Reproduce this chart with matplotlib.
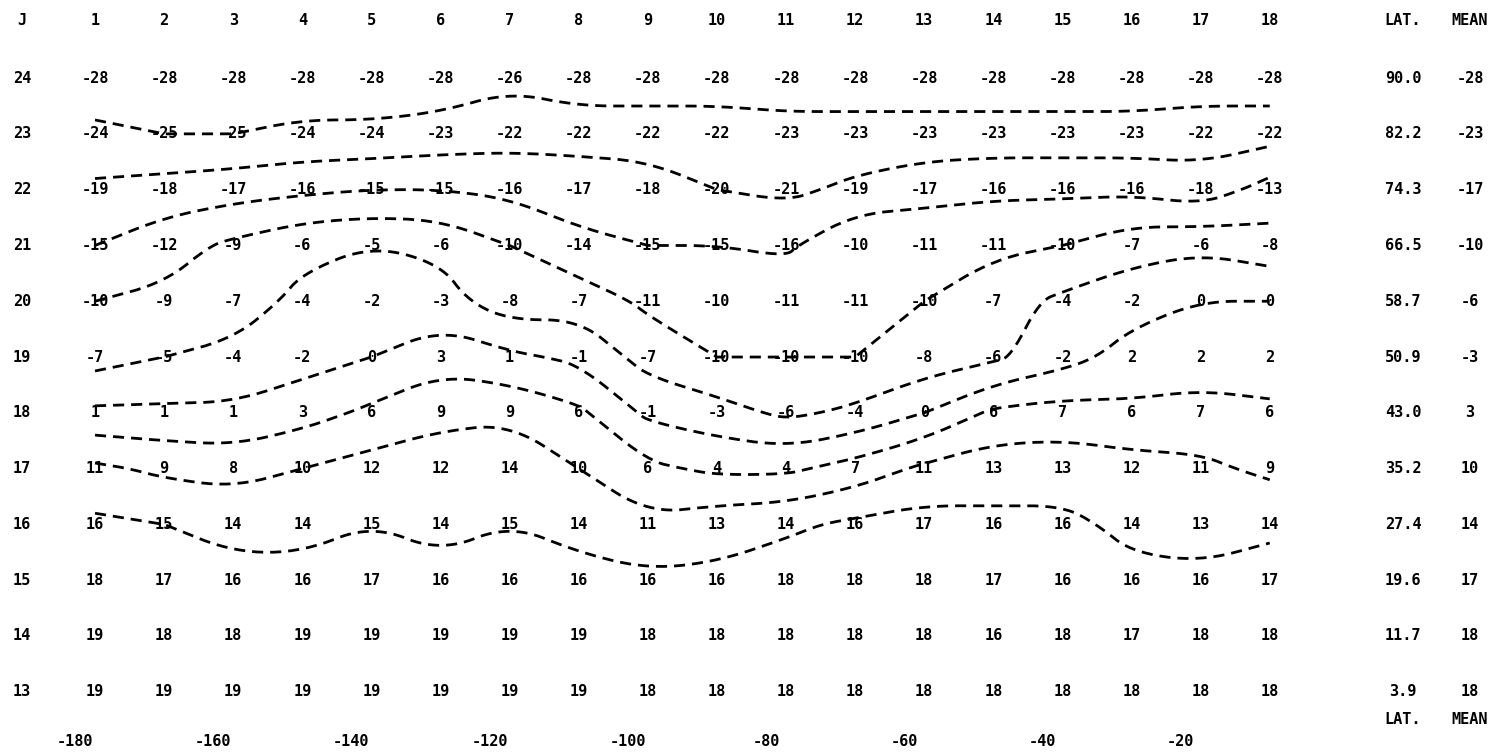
import numpy as np
import matplotlib
matplotlib.use("Agg")
import matplotlib.pyplot as plt

# grid index (I across, J down) and side columns
cols = list(range(1, 19))
rows = list(range(24, 12, -1))
lats = ["90.0", "82.2", "74.3", "66.5", "58.7", "50.9",
        "43.0", "35.2", "27.4", "19.6", "11.7", "3.9"]
means = [-28, -23, -17, -10, -6, -3, 3, 10, 14, 17, 18, 18]
lons = [-180, -160, -140, -120, -100, -80, -60, -40, -20]

# printed values, one list per row J
j24 = [-28, -28, -28, -28, -28, -28, -26, -28, -28, -28, -28, -28, -28, -28, -28, -28, -28, -28]
j23 = [-24, -25, -25, -24, -24, -23, -22, -22, -22, -22, -23, -23, -23, -23, -23, -23, -22, -22]
j22 = [-19, -18, -17, -16, -15, -15, -16, -17, -18, -20, -21, -19, -17, -16, -16, -16, -18, -13]
j21 = [-15, -12, -9, -6, -5, -6, -10, -14, -15, -15, -16, -10, -11, -11, -10, -7, -6, -8]
j20 = [-10, -9, -7, -4, -2, -3, -8, -7, -11, -10, -11, -11, -10, -7, -4, -2, 0, 0]
j19 = [-7, -5, -4, -2, 0, 3, 1, -1, -7, -10, -10, -10, -8, -6, -2, 2, 2, 2]
j18 = [1, 1, 1, 3, 6, 9, 9, 6, -1, -3, -6, -4, 0, 6, 7, 6, 7, 6]
j17 = [11, 9, 8, 10, 12, 12, 14, 10, 6, 4, 4, 7, 11, 13, 13, 12, 11, 9]
j16 = [16, 15, 14, 14, 15, 14, 15, 14, 11, 13, 14, 16, 17, 16, 16, 14, 13, 14]
j15 = [18, 17, 16, 16, 17, 16, 16, 16, 16, 16, 18, 18, 18, 17, 16, 16, 16, 17]
j14 = [19, 18, 18, 19, 19, 19, 19, 19, 18, 18, 18, 18, 18, 16, 18, 17, 18, 18]
j13 = [19, 19, 19, 19, 19, 19, 19, 19, 18, 18, 18, 18, 18, 18, 18, 18, 18, 18]

grid = np.array([j24, j23, j22, j21, j20, j19, j18, j17, j16, j15, j14, j13])
levels = [-25, -20, -15, -10, -5, 0, 5, 10, 15]


def chaikin(pts, n=4):
    # corner cutting, ends kept
    for _ in range(n):
        if len(pts) < 3:
            break
        q = 0.75 * pts[:-1] + 0.25 * pts[1:]
        r = 0.25 * pts[:-1] + 0.75 * pts[1:]
        mid = np.empty((2 * len(q), 2))
        mid[0::2] = q
        mid[1::2] = r
        pts = np.vstack([pts[:1], mid, pts[-1:]])
    return pts


fig = plt.figure(figsize=(14.95, 7.52), dpi=100)
ax = fig.add_axes([0, 0, 1, 1])
ax.set_xlim(-0.375, 21.26)
ax.set_ylim(11.92, 25.40)
ax.axis("off")

cs = ax.contour(cols, rows, grid, levels=levels)
segs = cs.allsegs
cs.remove()
for lev_segs in segs:
    for seg in lev_segs:
        s = chaikin(np.asarray(seg))
        ax.plot(s[:, 0], s[:, 1], color="black", lw=2,
                linestyle=(0, (4, 2.5)), solid_capstyle="butt")

txt = dict(ha="center", va="center", fontsize=11, fontweight="bold",
           family="DejaVu Sans Mono", color="black")

# header line
ax.text(-0.06, 25.04, "J", **txt)
for c in cols:
    ax.text(c, 25.04, str(c), **txt)
ax.text(19.93, 25.04, "LAT.", **txt)
ax.text(20.9, 25.04, "MEAN", **txt)

# table body
for r, vals, lat, m in zip(rows, grid, lats, means):
    ax.text(-0.06, r, str(r), **txt)
    for c, v in zip(cols, vals):
        ax.text(c, r, str(v), **txt)
    ax.text(19.93, r, lat, **txt)
    ax.text(20.9, r, str(m), **txt)

# longitude scale along the bottom
for k, lon in enumerate(lons):
    ax.text(0.71 + 2 * k, 12.1, str(lon), **txt)
ax.text(19.93, 12.5, "LAT.", **txt)
ax.text(20.9, 12.5, "MEAN", **txt)

fig.savefig("out.png", dpi=100)
